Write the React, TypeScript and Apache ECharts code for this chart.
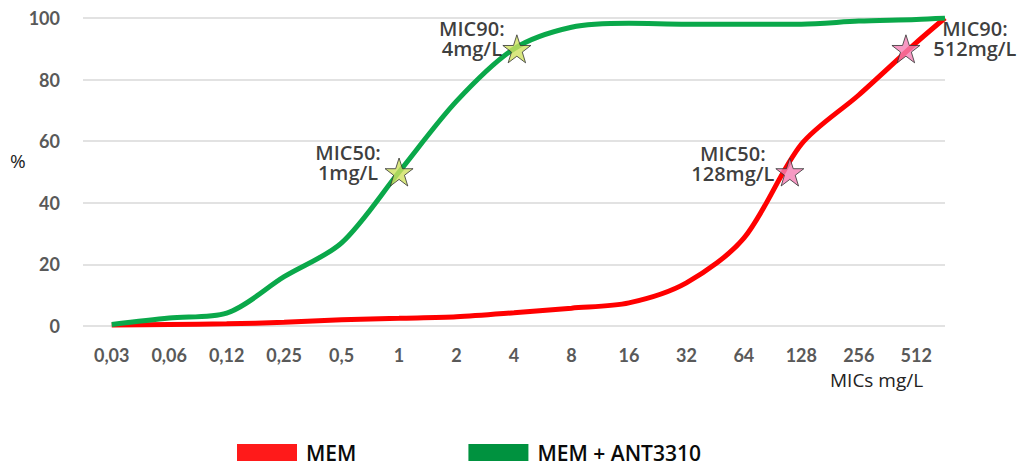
import React, { useEffect, useRef } from "react";
import * as echarts from "echarts";

const categories = ["0,03", "0,06", "0,12", "0,25", "0,5", "1", "2", "4", "8", "16", "32", "64", "128", "256", "512"];
const memValues = [0.3, 0.5, 0.7, 1.2, 2, 2.5, 3, 4.3, 5.8, 7.5, 14, 28.5, 59, 75, 92];
const comboValues = [0.5, 2.6, 4.2, 16, 27, 50, 73, 90, 97, 98.3, 98, 98, 98, 99, 99.5];
// both curves are drawn on to the right-hand edge of the axis
const endPosition = 14.5;
const memEnd = 100;
const comboEnd = 100;

const comboStars = [
  { pos: 5, value: 50, label: "MIC50:\n1mg/L", dx: -51, dy: -10 },
  { pos: 7.05, value: 90, label: "MIC90:\n4mg/L", dx: -45, dy: -10 },
];
const memStars = [
  { pos: 11.8, value: 50, label: "MIC50:\n128mg/L", dx: -57, dy: -9 },
  { pos: 13.82, value: 90, label: "MIC90:\n512mg/L", dx: 69, dy: -10 },
];

const STAR = "path://M50,0 L61.8,35.1 L98.6,35.1 L68.8,56.7 L80.2,91.9 L50,70.2 L19.8,91.9 L31.2,56.7 L1.4,35.1 L38.2,35.1 Z";

export default function App() {
  const ref = useRef<HTMLDivElement>(null);
  useEffect(() => {
    if (!ref.current) return;
    const chart = echarts.init(ref.current, null, { renderer: "svg" });
    const line = (vals: number[], end: number) =>
      vals.map((v, i) => [i, v]).concat([[endPosition, end]]);
    const starData = (arr: typeof comboStars) =>
      arr.map((s) => ({
        value: [s.pos, s.value],
        label: { offset: [s.dx, s.dy], formatter: s.label },
      }));
    const starLabel = {
      show: true,
      position: "inside",
      align: "center",
      verticalAlign: "middle",
      fontFamily: "Open Sans",
      fontWeight: 600,
      fontSize: 20,
      lineHeight: 20,
      color: "#0a0a0a",
    };
    chart.setOption({
      animation: false,
      grid: { left: 83, right: 81, top: 18, bottom: 143 },
      xAxis: [
        {
          type: "category",
          data: categories,
          boundaryGap: true,
          axisLine: { show: false },
          axisTick: { show: false },
          axisLabel: { color: "#595959", fontFamily: "Lato", fontWeight: "bold", fontSize: 18, margin: 20 },
        },
        { type: "value", min: -0.5, max: 14.5, show: false },
      ],
      yAxis: {
        type: "value",
        min: 0,
        max: 100,
        interval: 20,
        axisLine: { show: false },
        axisTick: { show: false },
        splitLine: { lineStyle: { color: "#d9d9d9", width: 1.5 } },
        axisLabel: { color: "#595959", fontFamily: "Lato", fontWeight: "bold", fontSize: 18, margin: 23 },
      },
      legend: {
        data: ["MEM", "MEM + ANT3310"],
        left: 232,
        top: 437,
        icon: "rect",
        itemWidth: 60,
        itemHeight: 17,
        itemGap: 112,
        textStyle: { fontFamily: "Open Sans", fontWeight: 600, fontSize: 21, color: "#0a0a0a", padding: [0, 0, 0, 4] },
      },
      graphic: [
        { type: "text", left: 10, top: 151, style: { text: "%", fontFamily: "Open Sans", fontSize: 19, fill: "#222" } },
        { type: "text", left: 830, top: 370, style: { text: "MICs mg/L", fontFamily: "Open Sans", fontSize: 19, fill: "#222" } },
      ],
      series: [
        {
          name: "MEM",
          type: "line",
          xAxisIndex: 1,
          data: line(memValues, memEnd),
          smooth: 0.3,
          showSymbol: false,
          lineStyle: { color: "#ff0000", width: 5 },
          itemStyle: { color: "#ff1a1a" },
          z: 2,
        },
        {
          name: "MEM + ANT3310",
          type: "line",
          xAxisIndex: 1,
          data: line(comboValues, comboEnd),
          smooth: 0.3,
          showSymbol: false,
          lineStyle: { color: "#0aa84a", width: 5 },
          itemStyle: { color: "#00923f" },
          z: 3,
        },
        {
          name: "stars-combo",
          type: "scatter",
          xAxisIndex: 1,
          symbol: STAR,
          symbolSize: 28,
          itemStyle: { color: "#cfe160", borderColor: "#333", borderWidth: 1 },
          label: starLabel,
          data: starData(comboStars),
          z: 5,
        },
        {
          name: "stars-mem",
          type: "scatter",
          xAxisIndex: 1,
          symbol: STAR,
          symbolSize: 28,
          itemStyle: { color: "#f47fb4", borderColor: "#333", borderWidth: 1 },
          label: starLabel,
          data: starData(memStars),
          z: 5,
        },
      ],
    });
    return () => chart.dispose();
  }, []);
  return <div ref={ref} style={{ width: 1026, height: 469, position: "absolute", left: 0, top: 0 }} />;
}
